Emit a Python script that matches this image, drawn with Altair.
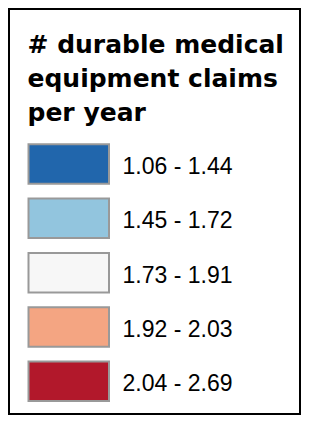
import altair as alt
import pandas as pd

labels = ["1.06 - 1.44", "1.45 - 1.72", "1.73 - 1.91", "1.92 - 2.03", "2.04 - 2.69"]
colors = ["#2166ac", "#92c5de", "#f7f7f7", "#f4a582", "#b2182b"]
title_lines = ["# durable medical", "equipment claims", "per year"]

df = pd.DataFrame({"label": labels, "color": colors})

y = alt.Y(
    "label:N",
    sort=labels,
    axis=None,
    scale=alt.Scale(domain=labels, range=[135.3, 392], paddingInner=0.273, paddingOuter=0),
)

swatches = alt.Chart(df).mark_rect(stroke="#999999", strokeWidth=2).encode(
    y=y,
    x=alt.value(19.5),
    x2=alt.value(100),
    color=alt.Color("label:N", scale=alt.Scale(domain=labels, range=colors), legend=None),
)

text = alt.Chart(df).mark_text(
    align="left", baseline="alphabetic", dy=10,
    font="Liberation Sans", fontSize=23, color="#000000",
).encode(
    y=y,
    x=alt.value(113.5),
    text="label:N",
)

title = alt.Chart(pd.DataFrame({"t": [0]})).mark_text(
    text=title_lines, align="left", baseline="alphabetic",
    font="DejaVu Sans", fontWeight="bold", fontSize=25, lineHeight=34, color="#000000",
).encode(
    x=alt.value(18.5),
    y=alt.value(44.3),
)

chart = alt.layer(swatches, text, title).properties(
    width=291,
    height=405,
    padding={"left": 1, "top": 1, "right": 1, "bottom": 1},
    autosize=alt.AutoSizeParams(type="none"),
).configure_view(stroke="black", strokeWidth=2)

chart.save("out.html", embed_options={"renderer": "svg", "actions": False})
